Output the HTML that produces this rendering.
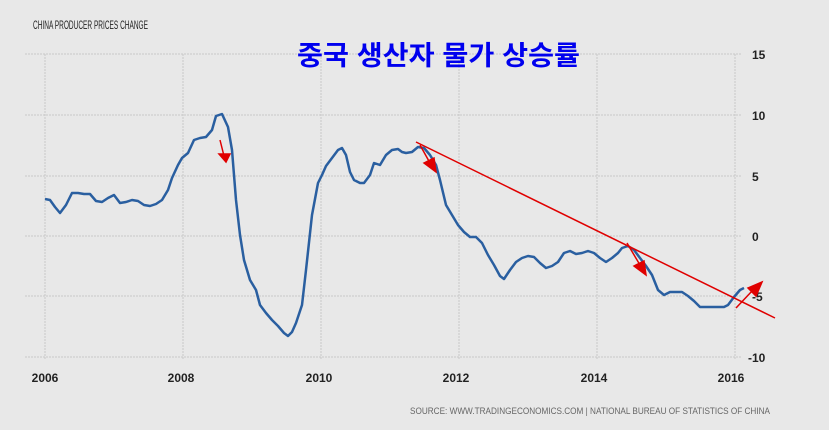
<!DOCTYPE html>
<html><head><meta charset="utf-8"><style>
body{margin:0;background:#e8e8e8;}
svg{display:block;font-family:"Liberation Sans","Noto Sans CJK KR",sans-serif;}
</style></head><body>
<svg width="829" height="430" viewBox="0 0 829 430" xmlns="http://www.w3.org/2000/svg">
<rect width="829" height="430" fill="#e8e8e8"/>
<g stroke="#c8c8c8" stroke-width="1" stroke-dasharray="2,1">
<line x1="25" y1="54" x2="742" y2="54"/><line x1="25" y1="115" x2="742" y2="115"/>
<line x1="25" y1="176" x2="742" y2="176"/><line x1="25" y1="236" x2="742" y2="236"/>
<line x1="25" y1="296" x2="742" y2="296"/><line x1="25" y1="357" x2="742" y2="357"/>
<line x1="45" y1="54" x2="45" y2="360"/><line x1="183" y1="54" x2="183" y2="360"/>
<line x1="321" y1="54" x2="321" y2="360"/><line x1="459" y1="54" x2="459" y2="360"/>
<line x1="597" y1="54" x2="597" y2="360"/><line x1="735" y1="54" x2="735" y2="360"/>
</g>
<text x="33" y="29" font-size="12" fill="#222" textLength="115" lengthAdjust="spacingAndGlyphs">CHINA PRODUCER PRICES CHANGE</text>
<text x="297" y="65" font-size="27" font-weight="bold" fill="#0000ee" textLength="283" lengthAdjust="spacingAndGlyphs">중국 생산자 물가 상승률</text>
<g font-size="12" font-weight="bold" fill="#222">
<text x="752" y="59">15</text><text x="752" y="120">10</text><text x="752" y="181">5</text>
<text x="752" y="241">0</text><text x="752" y="301">-5</text><text x="748" y="362">-10</text>
<g text-anchor="middle"><text x="45" y="382">2006</text><text x="181" y="382">2008</text><text x="319" y="382">2010</text><text x="456" y="382">2012</text><text x="594" y="382">2014</text><text x="731" y="382">2016</text></g>
</g>
<text x="410" y="414" font-size="9" fill="#666" textLength="360" lengthAdjust="spacingAndGlyphs">SOURCE: WWW.TRADINGECONOMICS.COM | NATIONAL BUREAU OF STATISTICS OF CHINA</text>
<polyline fill="none" stroke="#2a5fa0" stroke-width="2.5" stroke-linejoin="round" points="45,199 50,200 55,207 60,213 66,205 72,193 78,193 84,194 90,194 96,201 102,202 108,198 114,195 120,203 126,202 132,200 138,201 144,205 150,206 156,204 162,200 168,190 172,178 178,165 182,158 188,153 194,140 200,138 206,137 212,130 216,116 222,114 228,127 232,150 236,200 240,235 244,260 250,280 256,290 260,305 266,313 272,320 278,326 284,333 288,336 292,332 296,323 302,305 306,270 312,215 318,183 322,175 326,166 332,158 338,150 342,148 346,155 350,172 354,180 360,183 364,183 370,175 374,163 380,165 386,155 392,150 398,149 402,152 406,153 412,152 418,147 424,148 430,155 436,165 440,180 446,205 452,215 458,225 464,232 470,237 476,237 482,243 488,255 494,265 500,276 504,279 510,270 516,262 522,258 528,256 534,257 540,263 546,268 552,266 558,262 564,253 570,251 576,254 582,253 588,251 594,253 600,258 606,262 612,258 618,253 622,248 628,246 634,250 640,258 646,266 652,275 658,290 664,295 670,292 676,292 682,292 688,296 694,301 700,307 706,307 712,307 718,307 724,307 728,305 734,297 740,290 744,288"/>
<g stroke="#e00000" stroke-width="1.5" fill="#e00000">
<line x1="416" y1="142" x2="775" y2="318"/>
<line x1="220" y1="140" x2="224" y2="156"/><polygon points="219,154 230,154 226,162"/>
<line x1="420" y1="145" x2="430" y2="163"/><polygon points="424,163 434,158 436,172"/>
<line x1="627" y1="243" x2="640" y2="265"/><polygon points="634,266 644,261 646,275"/>
<line x1="736" y1="308" x2="753" y2="290"/><polygon points="748,288 756,296 762,282"/>
</g>
</svg>
</body></html>
